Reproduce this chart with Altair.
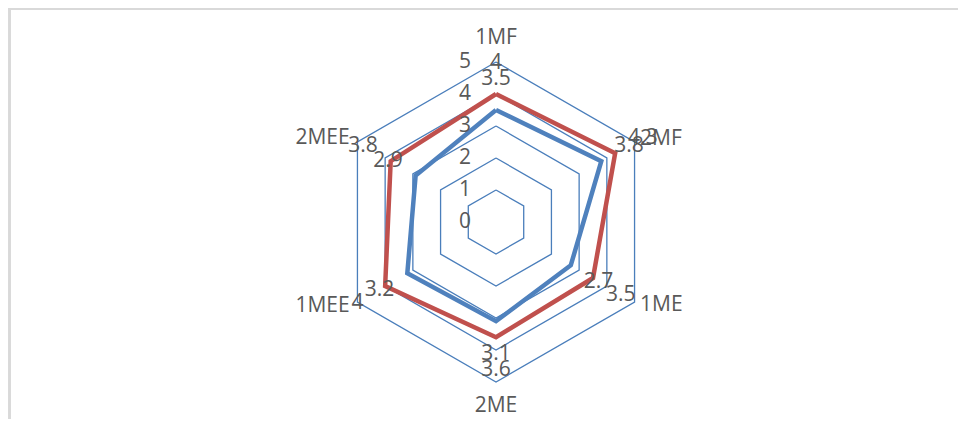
import altair as alt
import pandas as pd

# ---- data ----
categories = ["1MF", "2MF", "1ME", "2ME", "1MEE", "2MEE"]
series_blue = [3.5, 3.8, 2.7, 3.1, 3.2, 2.9]
series_red = [4, 4.3, 3.5, 3.6, 4, 3.8]
grid_levels = [1, 2, 3, 4, 5]
tick_labels = [0, 1, 2, 3, 4, 5]

# ---- tables built from the arrays ----
def closed_rows(vals, **extra):
    rows = []
    for i in range(len(categories) + 1):
        k = i % len(categories)
        r = dict(idx=i, cat=categories[k], value=vals[k])
        r.update(extra)
        rows.append(r)
    return rows

blue_df = pd.DataFrame(closed_rows(series_blue, series="Series1"))
red_df = pd.DataFrame(closed_rows(series_red, series="Series2"))
grid_rows = []
for lvl in grid_levels:
    grid_rows += closed_rows([lvl] * len(categories), level=lvl)
grid_df = pd.DataFrame(grid_rows)
lab_long = pd.concat([
    pd.DataFrame(dict(idx=range(6), cat=categories, value=series_blue, series="Series1")),
    pd.DataFrame(dict(idx=range(6), cat=categories, value=series_red, series="Series2")),
])
tick_df = pd.DataFrame(dict(tick=tick_labels))
cat_df = pd.DataFrame(dict(idx=range(len(categories)), cat=categories))

W, H = 950, 411
CX, CY, UNIT = 488, 214, 32.0
xs = alt.Scale(domain=[-CX / UNIT, (W - CX) / UNIT], nice=False, zero=False)
ys = alt.Scale(domain=[-(H - CY) / UNIT, CY / UNIT], nice=False, zero=False)

ANG = "PI/2 - datum.idx*PI/3"
FONT = "Open Sans"
TXT = "#595959"
FS = 21


def polar(chart, rexpr="datum.value"):
    return chart.transform_calculate(
        ang=ANG
    ).transform_calculate(
        x=f"({rexpr})*cos(datum.ang)", y=f"({rexpr})*sin(datum.ang)"
    )


def xy():
    return dict(
        x=alt.X("x:Q", scale=xs, axis=None),
        y=alt.Y("y:Q", scale=ys, axis=None),
    )


border = alt.Chart(tick_df).mark_rect(
    fill=None, stroke="#d9d9d9", strokeWidth=2
).encode(x=alt.value(1.5), y=alt.value(1), x2=alt.value(W + 20), y2=alt.value(H + 20))

grid = polar(alt.Chart(grid_df).mark_line(
    color="#4A7EBB", strokeWidth=1.3, strokeJoin="miter"
)).encode(**xy(), detail="level:N", order="idx:Q")

blue = polar(alt.Chart(blue_df).mark_line(
    color="#4F81BD", strokeWidth=4.5, strokeJoin="miter"
)).encode(**xy(), order="idx:Q")

red = polar(alt.Chart(red_df).mark_line(
    color="#C0504D", strokeWidth=4.5, strokeJoin="miter"
)).encode(**xy(), order="idx:Q")

data_labels = polar(alt.Chart(lab_long).mark_text(
    font=FONT, fontSize=FS, color=TXT, align="center", baseline="middle", dy=1
), "datum.value + 1.0").encode(**xy(), text=alt.Text("value:Q", format=".1~f"))

tick_text = alt.Chart(tick_df).mark_text(
    font=FONT, fontSize=FS, color=TXT, align="center", baseline="middle", dx=-31
).encode(
    x=alt.X("zero:Q", scale=xs, axis=None),
    y=alt.Y("tick:Q", scale=ys, axis=None),
    text="tick:Q",
).transform_calculate(zero="0")


def cat_layer(idxs, radius, align):
    return polar(
        alt.Chart(cat_df).transform_filter(
            alt.FieldOneOfPredicate(field="idx", oneOf=idxs)
        ).mark_text(font=FONT, fontSize=FS, color=TXT, align=align, baseline="middle"),
        str(radius),
    ).encode(**xy(), text="cat:N")


cat_center = cat_layer([0, 3], 5.74, "center")
cat_left = cat_layer([1, 2], 5.2, "left")
cat_right = cat_layer([4, 5], 5.28, "right")

chart = alt.layer(
    border, grid, blue, red, tick_text, data_labels, cat_center, cat_left, cat_right
).properties(
    width=W, height=H, padding=0, autosize="none"
).configure_view(stroke=None)

chart.save("out.html", embed_options={"renderer": "svg", "actions": False})
